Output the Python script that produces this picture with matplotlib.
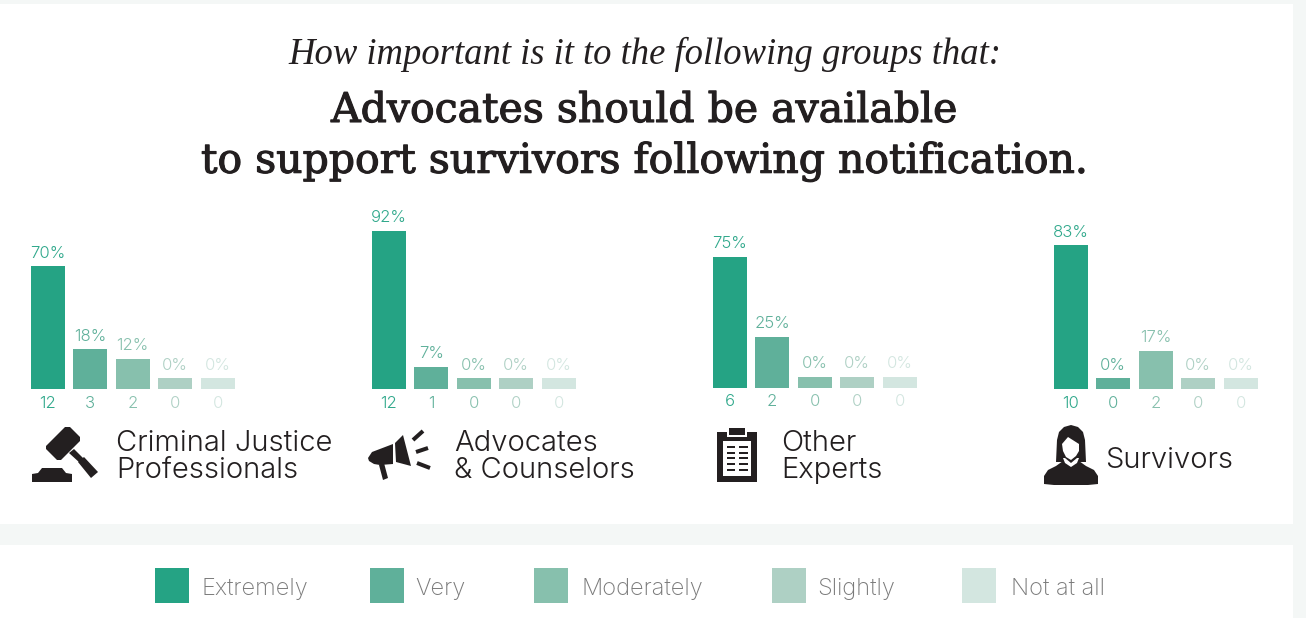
import matplotlib
matplotlib.use("Agg")
import matplotlib.pyplot as plt
import matplotlib.patheffects as pe
from matplotlib.patches import Rectangle, Polygon

W, H = 1306, 618

levels = ["Extremely", "Very", "Moderately", "Slightly", "Not at all"]
colors = ["#25a384", "#5fb09a", "#87c0ad", "#aed0c4", "#d3e6e0"]
text_colors = ["#2fa88b", "#5fb09a", "#87c0ad", "#aed0c4", "#d3e6e0"]

group_lines = [("Criminal Justice", "Professionals"), ("Advocates", "& Counselors"), ("Other", "Experts"), ("Survivors",)]
percent_criminal = [70, 18, 12, 0, 0]
percent_advocates = [92, 7, 0, 0, 0]
percent_experts = [75, 25, 0, 0, 0]
percent_survivors = [83, 0, 17, 0, 0]
count_criminal = [12, 3, 2, 0, 0]
count_advocates = [12, 1, 0, 0, 0]
count_experts = [6, 2, 0, 0, 0]
count_survivors = [10, 0, 2, 0, 0]

percents = [percent_criminal, percent_advocates, percent_experts, percent_survivors]
counts = [count_criminal, count_advocates, count_experts, count_survivors]

INK = "#231f20"
SANS = "Inter"

fig = plt.figure(figsize=(W / 100, H / 100), dpi=100, facecolor="#f4f7f6")

# Full-figure canvas measured in pixels, for panels, text and pictograms
canvas = fig.add_axes([0, 0, 1, 1], zorder=0)
canvas.set_xlim(0, W)
canvas.set_ylim(H, 0)
canvas.axis("off")
canvas.add_patch(Rectangle((0, 4), 1293, 520, fc="white", ec="none"))
canvas.add_patch(Rectangle((0, 545), 1293, 73, fc="white", ec="none"))

canvas.text(645, 54, "How important is it to the following groups that:", family="Liberation Serif",
            style="italic", fontsize=26.4, color=INK, ha="center", va="center")
for y, line in [(111, "Advocates should be available"), (162, "to support survivors following notification.")]:
    canvas.text(644, y, line, family="DejaVu Serif", fontsize=29.5, color=INK, ha="center", va="center",
                path_effects=[pe.withStroke(linewidth=0.8, foreground=INK)])

# One small bar chart per respondent group
PITCH = 42.5
FLOOR = 11 / 1.6   # zero-valued bars keep a short visible stub
bar_lefts = [30.7, 371.7, 712.7, 1053.7]
baselines = [389, 389, 388, 389]
AX_TOP = 190
for left, base, pct, cnt in zip(bar_lefts, baselines, percents, counts):
    x0 = left - (PITCH - 34) / 2
    ax = fig.add_axes([x0 / W, 1 - base / H, 5 * PITCH / W, (base - AX_TOP) / H], zorder=1)
    ax.patch.set_alpha(0)
    ax.axis("off")
    ax.set_xlim(-0.5, 4.5)
    ax.set_ylim(-FLOOR, (base - AX_TOP) / 1.6 - FLOOR)
    for i, (p, c) in enumerate(zip(pct, cnt)):
        ax.bar(i, p + FLOOR, bottom=-FLOOR, width=0.8, color=colors[i], linewidth=0)
        ax.annotate(f"{p}%", (i, p), xytext=(0, 13), textcoords="offset pixels", ha="center", va="center",
                    family=SANS, weight=300, fontsize=12, color=text_colors[i])
        ax.annotate(str(c), (i, -FLOOR), xytext=(0, -14), textcoords="offset pixels", ha="center", va="center",
                    family=SANS, weight=300, fontsize=12, color=text_colors[i])

# Group captions, stacked line by line
caption_x = [116, 454, 781, 1105]
caption_y = [(443.5, 470), (443.5, 470), (443.5, 470), (460,)]
for x, ys, lines in zip(caption_x, caption_y, group_lines):
    for y, line in zip(ys, lines):
        canvas.text(x, y, line, family=SANS, weight=300, fontsize=21, color=INK, ha="left", va="center")


def fill(points, color=INK, z=3):
    canvas.add_patch(Polygon(points, closed=True, fc=color, ec="none", zorder=z))


def stroke(a, b, lw, color=INK):
    canvas.plot([a[0], b[0]], [a[1], b[1]], color=color, lw=lw * 0.72, solid_capstyle="butt", zorder=4)


# Gavel
fill([(65, 427), (70, 427), (80, 437), (80, 441), (61, 460), (57, 460), (46, 449), (46, 446)])
fill([(69, 453), (74, 449), (84, 459), (80, 463)])
fill([(78, 462), (84, 457), (98, 472), (91, 478)])
fill([(32, 482), (32, 474), (38, 473), (42, 468), (62, 468), (66, 473), (72, 474), (72, 482)])

# Megaphone
fill([(368, 458), (372, 452), (393, 444), (393, 464), (380, 465), (374, 464), (369, 461)])
fill([(379, 465), (384, 463), (388, 478), (383, 480)])
fill([(395, 443), (403, 435), (411, 466), (396, 462)])
stroke((413, 440), (423, 431), 4)
stroke((416, 452), (428, 448), 4)
stroke((417, 463), (430, 468), 4)

# Clipboard
canvas.add_patch(Rectangle((717, 432), 40, 49.5, fc=INK, ec="none", zorder=3))
canvas.add_patch(Rectangle((727, 430), 20, 7, fc="white", ec="none", zorder=3.5))
canvas.add_patch(Rectangle((729, 428), 16, 7, fc=INK, ec="none", zorder=4))
canvas.add_patch(Rectangle((723, 441), 28, 35, fc="white", ec="none", zorder=3.5))
for y in [447, 453, 458, 464, 470]:
    stroke((727, y), (735, y), 2)
    stroke((739, y), (748, y), 2)

# Survivor silhouette
fill([(1056, 462), (1057, 440), (1059, 432), (1064, 427), (1071, 425), (1078, 427), (1083, 432), (1085, 440), (1086, 462)])
fill([(1044, 484), (1044, 476), (1048, 470), (1056, 466), (1063, 461), (1079, 461), (1086, 466), (1094, 470),
      (1098, 476), (1098, 484), (1088, 485), (1054, 485)])
fill([(1062, 444), (1068, 437), (1079, 444), (1079, 451), (1076, 456), (1071, 460), (1066, 457), (1063, 451)], "white", 3.5)
fill([(1063, 458), (1065, 458), (1071, 463), (1077, 458), (1079, 458), (1077, 463), (1071, 467), (1065, 463)], "white", 3.4)

# Legend strip
swatch_x = [155, 370, 534, 772, 962]
legend_x = [201, 415, 582, 817, 1011]
for sx, lx, name, col in zip(swatch_x, legend_x, levels, colors):
    canvas.add_patch(Rectangle((sx, 568), 34, 35, fc=col, ec="none"))
    canvas.text(lx, 588.5, name, family=SANS, weight=200, fontsize=17, color="#7a7a7a", ha="left", va="center")

fig.savefig("out.png", dpi=100, facecolor=fig.get_facecolor())
